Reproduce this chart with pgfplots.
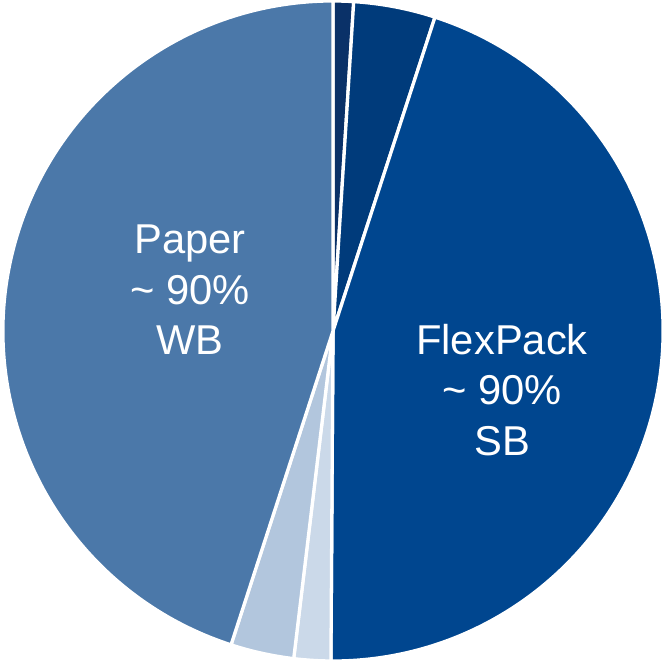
\documentclass[border=0pt]{standalone}
\usepackage{pgfplots}
\pgfplotsset{compat=1.18}
\usepackage{pgfplotstable}
\usepackage{fontspec}
\setmainfont{Liberation Sans}

\definecolor{c1}{HTML}{0A3168}
\definecolor{c2}{HTML}{003B7B}
\definecolor{c3}{HTML}{00468F}
\definecolor{c4}{HTML}{CBD9E9}
\definecolor{c5}{HTML}{B2C6DD}
\definecolor{c6}{HTML}{4B78A9}

% share of each slice in percent, clockwise from 12 o'clock
\pgfplotstableread{
pct  col
1.0  c1
4.0  c2
45.1 c3
1.8  c4
3.1  c5
45.0 c6
}\slices

\begin{document}
\begin{tikzpicture}
\begin{axis}[
  x=0.015cm, y=0.015cm,
  xmin=-333, xmax=334, ymin=-332, ymax=331,
  hide axis, clip=false,
]
\addplot[draw=none, forget plot] coordinates {(-333,-332) (334,331)};
\pgfplotsextra{%
  \gdef\cum{0}%
  \foreach \i in {0,...,5}{%
    \pgfplotstablegetelem{\i}{pct}\of\slices \let\slicep\pgfplotsretval
    \pgfplotstablegetelem{\i}{col}\of\slices \let\slicecol\pgfplotsretval
    \pgfmathsetmacro\aa{90-3.6*\cum}%
    \pgfmathsetmacro\bb{90-3.6*(\cum+\slicep)}%
    \pgfmathsetmacro\xs{330*cos(\aa)}%
    \pgfmathsetmacro\ys{330*sin(\aa)}%
    \fill[fill=\slicecol, draw=white, line width=1.4pt, line join=round]
      (axis cs:0,0) -- (axis cs:\xs,\ys) arc[start angle=\aa, end angle=\bb, radius=4.95cm] -- cycle;
    \pgfmathsetmacro\nc{\cum+\slicep}%
    \xdef\cum{\nc}%
  }%
}
\node[white, align=center, font=\fontsize{17.8}{21.5}\selectfont]
  at (axis cs:-143,41) {Paper\\\textasciitilde{} 90\%\\WB};
\node[white, align=center, font=\fontsize{17.8}{21.5}\selectfont]
  at (axis cs:169,-59) {FlexPack\\\textasciitilde{} 90\%\\SB};
\end{axis}
\pgfresetboundingbox
\useasboundingbox (current axis.south west) rectangle (current axis.north east);
\end{tikzpicture}
\end{document}
